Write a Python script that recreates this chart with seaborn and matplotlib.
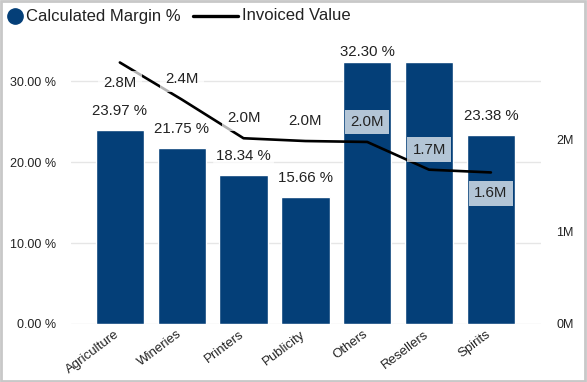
import numpy as np
import pandas as pd
import matplotlib
matplotlib.use('Agg')
import matplotlib.pyplot as plt
from matplotlib.lines import Line2D
from matplotlib.patches import Rectangle
from matplotlib.transforms import ScaledTranslation
import seaborn as sns

# data
categories = ['Agriculture', 'Wineries', 'Printers', 'Publicity', 'Others', 'Resellers', 'Spirits']
margin_pct = [23.97, 21.75, 18.34, 15.66, 32.30, 32.36, 23.38]
invoiced_m = [2.83, 2.43, 2.01, 1.98, 1.97, 1.67, 1.64]
bar_label_shown = [True, True, True, True, True, False, True]
line_label_above = [False, True, True, True, True, True, False]

sns.set_theme(style='white')
plt.rcParams['font.family'] = ['Liberation Sans', 'DejaVu Sans']

bar_color = '#043F78'
text_color = '#222222'
W, H = 587, 382

df = pd.DataFrame({'cat': categories, 'margin': margin_pct, 'inv': invoiced_m,
                   'pos': np.arange(len(categories))})

fig = plt.figure(figsize=(W / 100, H / 100), dpi=100)
ax = fig.add_axes([71 / W, 1 - 324 / H, (541 - 71) / W, (324 - 44) / H])

sns.barplot(data=df, x='cat', y='margin', color=bar_color, width=0.78,
            saturation=1, ax=ax, zorder=2)
ax.set_xlim(-0.79, 6.81)
ax.set_ylim(0, 34.57)
ax.set_yticks([0, 10, 20, 30])
ax.set_yticklabels([f'{v:.2f} %' for v in [0, 10, 20, 30]], fontsize=9, color=text_color)
ax.yaxis.grid(True, color='#e6e6e6', linewidth=1, zorder=0)
ax.set_axisbelow(True)
ax.set_xlabel('')
ax.set_ylabel('')
for s in ax.spines.values():
    s.set_visible(False)
ax.tick_params(axis='y', length=0, pad=11)
ax.tick_params(axis='x', length=0, pad=3)
shift = ScaledTranslation(-5 / 100, 0, fig.dpi_scale_trans)
for lbl in ax.get_xticklabels():
    lbl.set_rotation(37)
    lbl.set_ha('right')
    lbl.set_rotation_mode('anchor')
    lbl.set_fontsize(9.5)
    lbl.set_color(text_color)
    lbl.set_transform(lbl.get_transform() + shift)

# bar data labels
top_px = ax.transData.transform((0, ax.get_ylim()[1]))[1]
for i, (v, show) in enumerate(zip(margin_pct, bar_label_shown)):
    if not show:
        continue
    ypx = ax.transData.transform((i, v))[1]
    off = min(19, top_px - ypx - 8)
    ax.annotate(f'{v:.2f} %', (i, v), xytext=(0, off), textcoords='offset pixels',
                ha='center', va='center', fontsize=10.8, color=text_color, zorder=5,
                bbox=dict(boxstyle='round,pad=0.2', fc='white', ec='none', alpha=0.7))

ax2 = ax.twinx()
sns.lineplot(data=df, x='pos', y='inv', color='black', linewidth=1.9, ax=ax2, zorder=3)
ax2.set_xlim(-0.79, 6.81)
ax2.set_ylim(0, 3.03)
ax2.set_yticks([0, 1, 2])
ax2.set_yticklabels(['0M', '1M', '2M'], fontsize=9, color=text_color)
ax2.set_xlabel('')
ax2.set_ylabel('')
ax2.tick_params(axis='y', length=0, pad=11)
for s in ax2.spines.values():
    s.set_visible(False)

for i, (v, above) in enumerate(zip(invoiced_m, line_label_above)):
    off = 20 if above else -21
    ax2.annotate(f'{v:.1f}M', (i, v), xytext=(0, off), textcoords='offset pixels',
                 ha='center', va='center', fontsize=10.8, color=text_color, zorder=6,
                 bbox=dict(boxstyle='square,pad=0.35', fc='white', ec='none', alpha=0.7))

# legend drawn by hand to match the compact Power BI layout
ly = 1 - 16 / H
fig.add_artist(Line2D([15 / W], [ly], marker='o', markersize=11, linestyle='none',
                      markerfacecolor=bar_color, markeredgecolor=bar_color,
                      transform=fig.transFigure))
fig.text(26 / W, ly, 'Calculated Margin %', fontsize=12, color=text_color,
         va='center', ha='left')
fig.add_artist(Line2D([193 / W, 238 / W], [ly, ly], color='black', linewidth=2.4,
                      transform=fig.transFigure))
fig.text(242 / W, ly, 'Invoiced Value', fontsize=12, color=text_color,
         va='center', ha='left')

fig.patches.append(Rectangle((0.002, 0.003), 0.995, 0.994, transform=fig.transFigure,
                             fill=False, edgecolor='#c8c8c8', linewidth=2))

fig.savefig('out.png', dpi=100)
